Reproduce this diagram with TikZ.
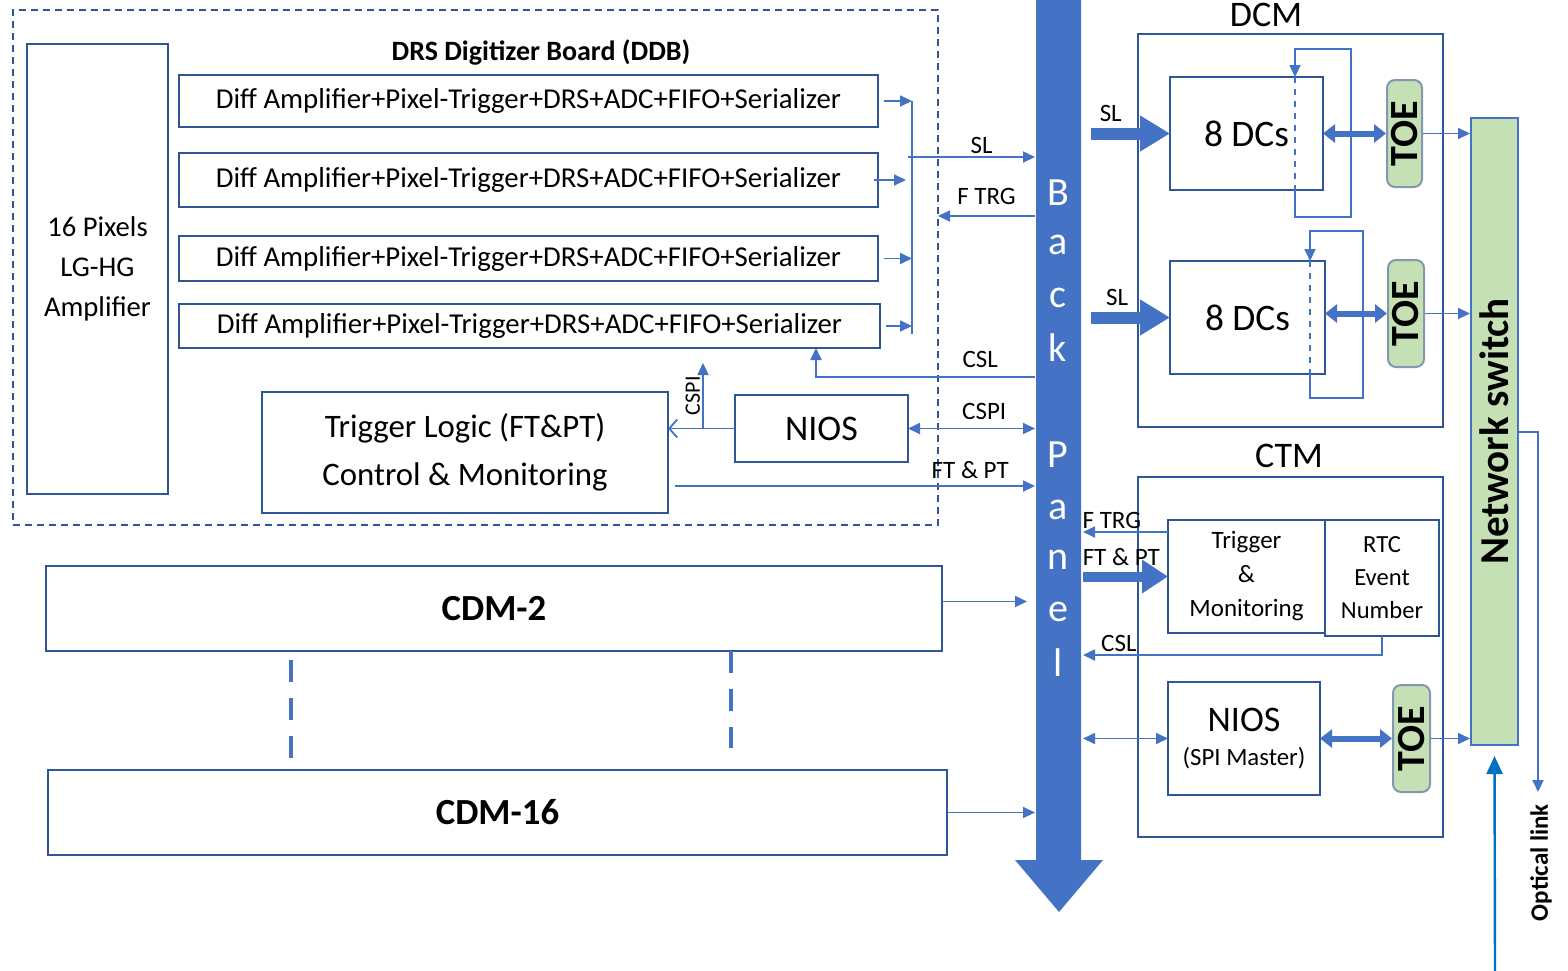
\documentclass[tikz,border=0pt]{standalone}
\usepackage{fontspec}
\setmainfont{Carlito}
\usepackage{tikz}
\usetikzlibrary{arrows.meta, positioning, calc}

\definecolor{lineblue}{HTML}{4472C4}
\definecolor{boxblue}{HTML}{2F5597}
\definecolor{toegreen}{HTML}{C5E0B4}
\definecolor{toegray}{HTML}{8497B0}
\definecolor{linkblue}{HTML}{0070C0}

\tikzset{
  blk/.style={rectangle, draw=boxblue, line width=1pt, inner sep=0pt, outer sep=0pt, align=center},
  toebox/.style={rectangle, rounded corners=4pt, draw=toegray, line width=1pt, fill=toegreen, inner sep=0pt, font=\fontsize{20}{20}\selectfont\bfseries},
  lbl/.style={font=\fontsize{12.5}{12}\selectfont, inner sep=1pt},
  arr/.style={draw=lineblue, line width=0.9pt, -{Triangle[length=6pt,width=5.5pt]}},
  dbl/.style={draw=lineblue, line width=0.9pt, {Triangle[length=6pt,width=5.5pt]}-{Triangle[length=6pt,width=5.5pt]}},
  fat/.style={draw=lineblue, line width=6pt, -{Triangle[length=15pt,width=17pt]}},
  fatdbl/.style={draw=lineblue, line width=3pt, {Triangle[length=6pt,width=9pt]}-{Triangle[length=6pt,width=9pt]}},
  openarr/.style={draw=lineblue, line width=0.9pt, -{Straight Barb[length=4pt,width=9pt]}},
  vdash/.style={draw=lineblue, line width=1.6pt, dash pattern=on 11pt off 8pt},
  panelchar/.style={text=white, font=\fontsize{20}{20}\selectfont, inner sep=0pt},
}

\begin{document}
\begin{tikzpicture}[x=0.5pt, y=-0.5pt]
  \useasboundingbox (0,0) rectangle (1568,970);

  % back panel
  \fill[lineblue] (1036,-4) -- (1081,-4) -- (1081,860) -- (1103,860) -- (1059,912)
    -- (1015,860) -- (1036,860) -- cycle;
  \coordinate (bpL) at (1035,0);
  \coordinate (bpR) at (1083,0);
  \node[panelchar] (pB) at (1058,193) {B};
  \node[panelchar] (pa) at (1058,245) {a};
  \node[panelchar] (pc) at (1058,298) {c};
  \node[panelchar] (pk) at (1058,348) {k};
  \node[panelchar] (pP) at (1058,455) {P};
  \node[panelchar] (pa2) at (1058,510) {a};
  \node[panelchar] (pn) at (1058,560) {n};
  \node[panelchar] (pe) at (1058,612) {e};
  \node[panelchar] (pl) at (1058,663) {l};

  % DRS digitizer board
  \node[blk, draw=boxblue, dash pattern=on 3.5pt off 2.5pt, minimum width=462.5pt, minimum height=257.5pt] (ddb) at (475.5,267.5) {};
  \node[font=\fontsize{14}{14}\selectfont\bfseries] (ddbtitle) at (541,52) {DRS Digitizer Board (DDB)};
  \node[blk, minimum width=70.5pt, minimum height=225pt, font=\fontsize{14.3}{20}\selectfont] (pix) at (97.5,269) {16 Pixels\\LG-HG\\Amplifier};
  \node[blk, minimum width=349.5pt, minimum height=26pt, font=\fontsize{14.4}{14}\selectfont] (diff1) at (528.5,101) {Diff Amplifier+Pixel-Trigger+DRS+ADC+FIFO+Serializer};
  \node[blk, minimum width=349.5pt, minimum height=27pt, font=\fontsize{14.4}{14}\selectfont] (diff2) at (528.5,180) {Diff Amplifier+Pixel-Trigger+DRS+ADC+FIFO+Serializer};
  \node[blk, minimum width=349.5pt, minimum height=22.5pt, font=\fontsize{14.4}{14}\selectfont] (diff3) at (528.5,258.5) {Diff Amplifier+Pixel-Trigger+DRS+ADC+FIFO+Serializer};
  \node[blk, minimum width=350.5pt, minimum height=22pt, font=\fontsize{14.4}{14}\selectfont] (diff4) at (529.5,326) {Diff Amplifier+Pixel-Trigger+DRS+ADC+FIFO+Serializer};
  \node[blk, minimum width=203pt, minimum height=60.5pt, font=\fontsize{16.4}{24}\selectfont] (trig) at (465,452.5) {Trigger Logic (FT\&PT)\\Control \& Monitoring};
  \node[blk, minimum width=86.5pt, minimum height=33.5pt, font=\fontsize{18}{18}\selectfont] (nios) at (821.5,428.5) {NIOS};

  % CDM boards
  \node[blk, minimum width=448pt, minimum height=42.5pt, font=\fontsize{18.4}{18}\selectfont\bfseries] (cdm2) at (494,608.5) {CDM-2};
  \node[blk, minimum width=449.5pt, minimum height=42.5pt, font=\fontsize{18.4}{18}\selectfont\bfseries] (cdm16) at (497.5,812.5) {CDM-16};

  % DCM
  \node[font=\fontsize{18}{18}\selectfont] (dcmtitle) at (1266,15) {DCM};
  \node[blk, minimum width=152.5pt, minimum height=196.5pt] (dcm) at (1290.5,230.5) {};
  \node[blk, minimum width=76.5pt, minimum height=56.5pt, font=\fontsize{18.7}{18}\selectfont] (dcs1) at (1246.5,133.5) {8 DCs};
  \node[blk, minimum width=77.5pt, minimum height=56.5pt, font=\fontsize{18.7}{18}\selectfont] (dcs2) at (1247.5,317.5) {8 DCs};
  \node[toebox, minimum width=17.5pt, minimum height=53.5pt] (toe1) at (1404.5,133.5) {\rotatebox{90}{TOE}};
  \node[toebox, minimum width=18pt, minimum height=53.5pt] (toe2) at (1406,313.5) {\rotatebox{90}{TOE}};
  \node[rectangle, draw=lineblue, line width=1pt, fill=toegreen, inner sep=0pt, minimum width=23.5pt, minimum height=313.5pt,
    font=\fontsize{20.5}{20}\selectfont\bfseries] (ns) at (1494.5,431.5) {\rotatebox{90}{Network switch}};

  % CTM
  \node[font=\fontsize{18}{18}\selectfont] (ctmtitle) at (1289,456) {CTM};
  \node[blk, minimum width=152.5pt, minimum height=180pt] (ctm) at (1290.5,657) {};
  \node[blk, minimum width=78.5pt, minimum height=56.5pt, font=\fontsize{12.5}{17}\selectfont] (trm) at (1246.5,576.5) {Trigger\\\&\\Monitoring};
  \node[blk, minimum width=57pt, minimum height=58pt, font=\fontsize{12.3}{16.5}\selectfont] (rtc) at (1382,578) {RTC\\Event\\Number};
  \node[blk, minimum width=76pt, minimum height=56.5pt, font=\fontsize{12.4}{18}\selectfont] (nios2) at (1244,738.5) {{\fontsize{18}{18}\selectfont NIOS}\\[-1pt](SPI Master)};
  \node[toebox, minimum width=18.5pt, minimum height=53.5pt] (toe3) at (1411.5,738.5) {\rotatebox{90}{TOE}};

  % DDB connectors
  \coordinate (busX) at (912,0);
  \draw[draw=lineblue, line width=0.9pt] (diff1.east -| busX) -- ([yshift=-4pt]diff4.east -| busX);
  \draw[arr] ([xshift=3pt]diff1.east) -- (diff1.east -| busX);
  \draw[arr] ([xshift=-2pt]diff2.east) -- ([xshift=-3pt]diff2.east -| busX);
  \draw[arr] ([xshift=3pt]diff3.east) -- (diff3.east -| busX);
  \draw[arr] ([xshift=3pt]diff4.east) -- (diff4.east -| busX);
  \coordinate (slA) at (908,157);
  \draw[arr] (slA) -- node[lbl, above, pos=0.58]{SL} (slA -| bpL);
  \coordinate (ftrgA) at (0,216);
  \draw[arr] (ftrgA -| bpL) -- node[lbl, above=4pt, pos=0.5]{F TRG} (ftrgA -| ddb.east);
  \coordinate (cslA) at (816,377);
  \draw[arr] (cslA -| bpL) -- node[lbl, above=3pt, pos=0.25]{CSL} (cslA) -- (cslA |- diff4.south);
  \draw[openarr] (nios.west) -- (nios.west -| trig.east);
  \coordinate (cspiT) at (703,363);
  \draw[arr] (nios.west -| cspiT) -- node[lbl, sloped, above, font=\fontsize{11}{11}\selectfont]{CSPI} (cspiT);
  \draw[dbl] (nios.east) -- node[lbl, above=3pt, pos=0.6]{CSPI} (nios.east -| bpL);
  \coordinate (ftptA) at (675,486);
  \draw[arr] (ftptA) -- node[lbl, above=2pt, pos=0.82]{FT \& PT} (ftptA -| bpL);

  % CDM connectors
  \draw[arr] ([yshift=3.5pt]cdm2.east) -- ([xshift=-4pt,yshift=3.5pt]cdm2.east -| bpL);
  \draw[arr] (cdm16.east) -- (cdm16.east -| bpL);
  \coordinate (dotA) at (291,0);
  \coordinate (dotB) at (731,0);
  \draw[vdash, shorten <=4.5pt, shorten >=6pt] (cdm2.south -| dotA) -- (cdm16.north -| dotA);
  \draw[vdash, shorten <=0pt, shorten >=11pt] (cdm2.south -| dotB) -- (cdm16.north -| dotB);

  % DCM connectors
  \draw[fat] ([xshift=4pt]bpR |- dcs1.west) -- node[lbl, above=2pt, pos=0.25]{SL} (dcs1.west);
  \draw[fat] ([xshift=4pt]bpR |- dcs2.west) -- node[lbl, above=2pt, pos=0.33]{SL} (dcs2.west);
  \coordinate (fbA) at (1295,217);
  \coordinate (fbC) at (1351,49);
  \draw[draw=lineblue, line width=0.9pt, dashed] (dcs1.north -| fbA) -- (dcs1.south -| fbA);
  \draw[arr] (dcs1.south -| fbA) -- (fbA) -| (fbC) -| (dcs1.north -| fbA);
  \coordinate (fbB) at (1310,398);
  \coordinate (fbD) at (1363,231);
  \draw[draw=lineblue, line width=0.9pt, dashed] (dcs2.north -| fbB) -- (dcs2.south -| fbB);
  \draw[arr] (dcs2.south -| fbB) -- (fbB) -| (fbD) -| (dcs2.north -| fbB);
  \draw[fatdbl] (toe1.west -| dcs1.east) -- (toe1.west);
  \draw[fatdbl] (toe2.west -| dcs2.east) -- (toe2.west);
  \draw[arr] (toe1.east) -- (toe1.east -| ns.west);
  \draw[arr] (toe2.east) -- (toe2.east -| ns.west);

  % CTM connectors
  \coordinate (ftrgB) at ([yshift=-6pt]trm.north west);
  \draw[arr] (ftrgB) -- node[lbl, above=0pt, pos=0.66]{F TRG} (ftrgB -| bpR);
  \draw[fat, line width=5pt, -{Triangle[length=13pt,width=16pt]}] (trm.west -| bpR) -- node[lbl, above=2pt, pos=0.45]{FT \& PT} (trm.west);
  \coordinate (cslY) at (0,655);
  \draw[arr] (rtc.south) -- (rtc.south |- cslY) -- node[lbl, above=0pt, pos=0.88]{CSL} (cslY -| bpR);
  \draw[dbl] (nios2.west -| bpR) -- (nios2.west);
  \draw[fatdbl] (nios2.east) -- (toe3.west);
  \draw[arr] (toe3.east) -- (toe3.east -| ns.west);

  % network switch links
  \coordinate (optY) at (1538,432);
  \coordinate (optB) at (1538,792);
  \draw[arr] (ns.east |- optY) -- (optY) -- (optB);
  \node[font=\fontsize{12.5}{12}\selectfont\bfseries, rotate=90, anchor=east] (optlbl) at (1541,797) {Optical link};
  \coordinate (lnk) at (1495,975);
  \draw[draw=linkblue, line width=1.2pt, -{Triangle[length=9pt,width=8pt]}] (lnk) -- ([yshift=-5pt]ns.south);
\end{tikzpicture}
\end{document}
